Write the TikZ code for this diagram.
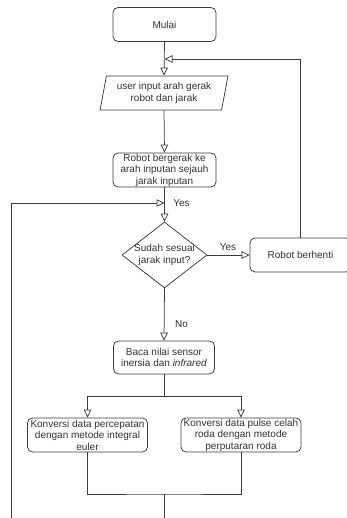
\documentclass[tikz,border=0pt]{standalone}
\usepackage{fontspec}
\setmainfont{Liberation Sans}
\usetikzlibrary{arrows.meta,shapes.geometric}
\definecolor{ln}{RGB}{60,60,60}
\definecolor{tx}{RGB}{50,50,50}
\begin{document}
\begin{tikzpicture}[x=1pt,y=-1pt,
  every node/.style={font=\fontsize{10}{11.5}\selectfont, text=tx},
  procbox/.style={draw=ln, line width=0.75pt, rounded corners=5pt, fill=white,
    inner sep=0pt, align=center, minimum height=34pt},
  iobox/.style={draw=ln, line width=0.75pt, trapezium, trapezium left angle=76,
    trapezium right angle=104, trapezium stretches=true, minimum width=128pt,
    minimum height=34pt, inner sep=0pt, align=center},
  decbox/.style={draw=ln, line width=0.75pt, diamond, minimum width=85pt,
    minimum height=66pt, inner sep=0pt},
  lbl/.style={inner sep=0pt},
  conn/.style={draw=ln, line width=0.75pt},
  arr/.style={conn, -{Triangle[open, length=8pt, width=7.5pt]}}
]
\useasboundingbox (0,0) rectangle (347,518);

\node[procbox, minimum width=103pt] (mulai) at (164.5,24.5) {Mulai};
\node[iobox] (input) at (164,93) {user input arah gerak\\robot dan jarak};
\node[procbox, minimum width=103pt] (gerak) at (164.5,170) {Robot bergerak ke\\arah inputan sejauh\\jarak inputan};
\node[decbox, label={[align=center, inner sep=0pt]center:Sudah sesuai\\jarak input?}] (dia) at (164.5,255) {};
\node[procbox, minimum width=101pt] (stop) at (300.5,255) {Robot berhenti};
\node[procbox, minimum width=101pt, minimum height=33pt] (baca) at (164,357.5) {Baca nilai sensor\\inersia dan \textit{infrared}};
\node[procbox, minimum width=120pt] (kl) at (87.5,435) {Konversi data percepatan\\dengan metode integral\\euler};
\node[procbox, minimum width=120pt] (kr) at (241,435) {Konversi data pulse celah\\roda dengan metode\\perputaran roda};

\coordinate (m1) at (164.5,59);
\coordinate (m2) at (164.5,203);
\coordinate (split) at (164,396);
\coordinate (join) at (164,494);
\coordinate (down) at (164,525);
\coordinate (loop) at (11,525);

% main flow
\draw[arr] (mulai.south) -- (input.north);
\draw[arr] (input.south) -- (gerak.north);
\draw[arr] (gerak.south) -- (dia.north);
\draw[arr] (dia.east) -- (stop.west);
\draw[arr] (stop.north) |- (m1);
\draw[arr] (dia.south) -- (baca.north);
\draw[conn] (baca.south) -- (split);
\draw[arr] (split) -| (kl.north);
\draw[arr] (split) -| (kr.north);
\draw[conn] (kl.south) |- (join) -| (kr.south);
\draw[conn] (join) -- (down);
\draw[arr] (loop) |- (m2);

% labels
\node[lbl] (y1) at (181.5,203) {Yes};
\node[lbl] (y2) at (228,247) {Yes};
\node[lbl] (n1) at (181.5,324) {No};
\end{tikzpicture}
\end{document}
